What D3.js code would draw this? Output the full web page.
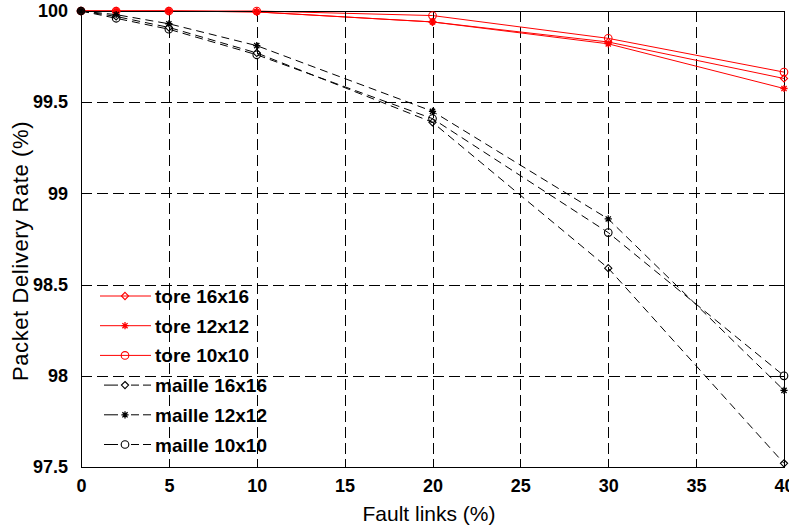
<!DOCTYPE html>
<html>
<head>
<meta charset="utf-8">
<script src="https://cdn.jsdelivr.net/npm/d3@7/dist/d3.min.js"></script>
<style>
  html, body { margin: 0; padding: 0; background: #fff; }
  svg { display: block; }
  text { font-family: "Liberation Sans", Arial, sans-serif; fill: #000; }
</style>
</head>
<body>
<svg id="chart" width="789" height="528"></svg>
<script>
// ---- data ----
const faultLinks = [0, 2, 5, 10, 20, 30, 40];
const tore16 = [100, 100, 100, 99.995, 99.94, 99.83, 99.63];
const tore12 = [100, 100, 100, 99.995, 99.94, 99.82, 99.575];
const tore10 = [100, 100, 100, 100, 99.975, 99.85, 99.665];
const maille16 = [100, 99.97, 99.91, 99.77, 99.39, 98.59, 97.52];
const maille12 = [100, 99.98, 99.93, 99.81, 99.45, 98.86, 97.92];
const maille10 = [100, 99.96, 99.90, 99.76, 99.41, 98.785, 98.0];
const seriesNames = ["tore 16x16", "tore 12x12", "tore 10x10", "maille 16x16", "maille 12x12", "maille 10x10"];
const xTicks = [0, 5, 10, 15, 20, 25, 30, 35, 40];
const yTicks = [97.5, 98, 98.5, 99, 99.5, 100];
const xLabel = "Fault links (%)";
const yLabel = "Packet Delivery Rate (%)";

const series = [
  { name: seriesNames[0], values: tore16, color: "#ff0000", dashed: false, marker: "diamond" },
  { name: seriesNames[1], values: tore12, color: "#ff0000", dashed: false, marker: "star" },
  { name: seriesNames[2], values: tore10, color: "#ff0000", dashed: false, marker: "circle" },
  { name: seriesNames[3], values: maille16, color: "#000000", dashed: true, marker: "diamond" },
  { name: seriesNames[4], values: maille12, color: "#000000", dashed: true, marker: "star" },
  { name: seriesNames[5], values: maille10, color: "#000000", dashed: true, marker: "circle" }
];

const svg = d3.select("#chart");
const L = 81, R = 784, T = 11, B = 467;
const x = d3.scaleLinear().domain([0, 40]).range([L, R]);
const y = d3.scaleLinear().domain([97.5, 100]).range([B, T]);

// grid
const grid = svg.append("g").attr("shape-rendering", "crispEdges");
grid.selectAll("line.vx").data(xTicks.slice(1, -1)).enter().append("line")
  .attr("x1", d => Math.round(x(d)) + 0.5).attr("x2", d => Math.round(x(d)) + 0.5)
  .attr("y1", T).attr("y2", B)
  .attr("stroke", "#000").attr("stroke-width", 1).attr("stroke-dasharray", "11,5");
grid.selectAll("line.hy").data(yTicks.slice(1, -1)).enter().append("line")
  .attr("y1", d => Math.round(y(d)) + 0.5).attr("y2", d => Math.round(y(d)) + 0.5)
  .attr("x1", L).attr("x2", R)
  .attr("stroke", "#000").attr("stroke-width", 1).attr("stroke-dasharray", "11,5");

// axes (ticks inward)
const xAxisB = d3.axisBottom(x).tickValues(xTicks).tickSize(-7).tickPadding(12).tickFormat(d3.format("d"));
const xAxisT = d3.axisTop(x).tickValues(xTicks).tickSize(-7).tickFormat("");
const yAxisL = d3.axisLeft(y).tickValues(yTicks).tickSize(-7).tickPadding(13).tickFormat(d => String(d));
const yAxisR = d3.axisRight(y).tickValues(yTicks).tickSize(-7).tickFormat("");

function styleAxis(g) {
  g.select(".domain").remove();
  g.selectAll(".tick line").attr("stroke", "#000").attr("shape-rendering", "crispEdges");
  g.selectAll(".tick text").attr("font-family", "Liberation Sans, Arial, sans-serif")
    .attr("font-size", 18).attr("font-weight", "bold").attr("fill", "#000");
}

// lines
const lineGen = d3.line().x((d, i) => x(faultLinks[i])).y(d => y(d));
const linesG = svg.append("g");
series.forEach(s => {
  linesG.append("path")
    .attr("d", lineGen(s.values))
    .attr("fill", "none")
    .attr("stroke", s.color)
    .attr("stroke-width", 1)
    .attr("stroke-dasharray", s.dashed ? "8,5" : null);
});

// axis box
svg.append("rect").attr("x", L + 0.5).attr("y", T + 0.5)
  .attr("width", R - L).attr("height", B - T)
  .attr("fill", "none").attr("stroke", "#000").attr("stroke-width", 1)
  .attr("shape-rendering", "crispEdges");

svg.append("g").attr("transform", `translate(0,${B})`).call(xAxisB).call(styleAxis);
svg.append("g").attr("transform", `translate(0,${T})`).call(xAxisT).call(styleAxis);
svg.append("g").attr("transform", `translate(${L},0)`).call(yAxisL).call(styleAxis);
svg.append("g").attr("transform", `translate(${R},0)`).call(yAxisR).call(styleAxis);

// markers
function drawMarker(g, type, cx, cy, color) {
  if (type === "circle") {
    g.append("circle").attr("cx", cx).attr("cy", cy).attr("r", 3.8)
      .attr("fill", "none").attr("stroke", color).attr("stroke-width", 1.1);
  } else if (type === "diamond") {
    const s = 3.6;
    g.append("path").attr("d", `M${cx},${cy - s}L${cx + s},${cy}L${cx},${cy + s}L${cx - s},${cy}Z`)
      .attr("fill", "none").attr("stroke", color).attr("stroke-width", 1.1);
  } else {
    const s = 3.6, d = 2.6;
    g.append("path").attr("d",
      `M${cx - s},${cy}L${cx + s},${cy}M${cx},${cy - s}L${cx},${cy + s}` +
      `M${cx - d},${cy - d}L${cx + d},${cy + d}M${cx - d},${cy + d}L${cx + d},${cy - d}`)
      .attr("fill", "none").attr("stroke", color).attr("stroke-width", 1.3);
  }
}
const markG = svg.append("g");
series.forEach(s => {
  s.values.forEach((v, i) => drawMarker(markG, s.marker, x(faultLinks[i]), y(v), s.color));
});

// legend
const leg = svg.append("g");
series.forEach((s, i) => {
  const cy = 296 + i * 29.7;
  if (s.dashed) {
    leg.append("line").attr("x1", 104).attr("x2", 118).attr("y1", cy).attr("y2", cy).attr("stroke", s.color);
    leg.append("line").attr("x1", 131).attr("x2", 139).attr("y1", cy).attr("y2", cy).attr("stroke", s.color);
    leg.append("line").attr("x1", 143).attr("x2", 151).attr("y1", cy).attr("y2", cy).attr("stroke", s.color);
  } else {
    leg.append("line").attr("x1", 100).attr("x2", 151).attr("y1", cy).attr("y2", cy).attr("stroke", s.color);
  }
  drawMarker(leg, s.marker, 125, cy, s.color);
  leg.append("text").attr("x", 155).attr("y", cy + 7)
    .attr("font-size", 19).attr("font-weight", "bold").text(s.name);
});

// axis labels
svg.append("text").attr("x", 429).attr("y", 521)
  .attr("text-anchor", "middle").attr("font-size", 21).text(xLabel);
svg.append("text").attr("transform", `translate(28,251) rotate(-90)`)
  .attr("text-anchor", "middle").attr("font-size", 22).attr("letter-spacing", 0.6).text(yLabel);
</script>
</body>
</html>
